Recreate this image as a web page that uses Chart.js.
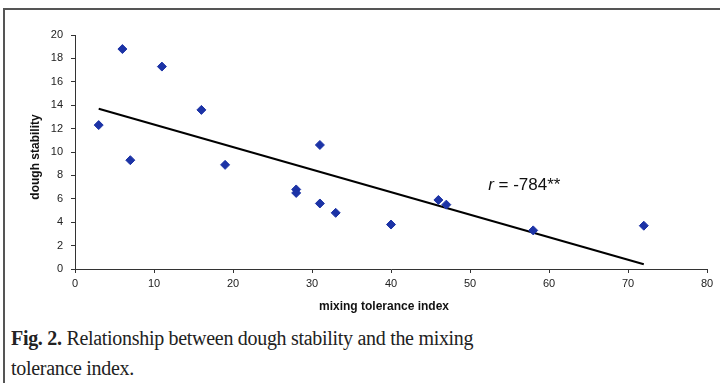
<!DOCTYPE html>
<html>
<head>
<meta charset="utf-8">
<script src="https://cdn.jsdelivr.net/npm/chart.js@4.4.0/dist/chart.umd.min.js"></script>
<style>
  html, body { margin: 0; padding: 0; background: #fff; }
  body { width: 720px; height: 383px; position: relative; overflow: hidden; }
  .frame { position: absolute; left: 3px; top: 8px; width: 717px; height: 375px;
           border-top: 2px solid #555; border-left: 2px solid #555; box-sizing: border-box; }
  #chart { position: absolute; left: 0; top: 0; }
  .caption { position: absolute; left: 11px; top: 323px; font-family: "Liberation Serif", "Times New Roman", serif;
             font-size: 20px; line-height: 30px; letter-spacing: -0.3px; color: #222; white-space: nowrap; }
</style>
</head>
<body>
<div class="frame"></div>
<canvas id="chart" width="720" height="320"></canvas>
<div class="caption"><b>Fig. 2.</b> Relationship between dough stability and the mixing<br>tolerance index.</div>
<script>
// one pair per sample
const mixingIndex    = [3, 6, 7, 11, 16, 19, 28, 28, 31, 31, 33, 40, 46, 47, 58, 72];
const doughStability = [12.3, 18.8, 9.3, 17.3, 13.6, 8.9, 6.8, 6.5, 10.6, 5.6, 4.8, 3.8, 5.9, 5.5, 3.3, 3.7];

// regression line end points
const trendX = [3, 72];
const trendY = [13.7, 0.4];

const xTicks = [0, 10, 20, 30, 40, 50, 60, 70, 80];
const yTicks = [0, 2, 4, 6, 8, 10, 12, 14, 16, 18, 20];

const xTitle = 'mixing tolerance index';
const yTitle = 'dough stability';
const rLabel = { x: 52.3, y: 6.75, r: 'r', rest: ' = -784**' };

const sans = '"Liberation Sans", Arial, sans-serif';

const textPlugin = {
  id: 'textPlugin',
  afterDraw(chart) {
    const { ctx, chartArea: a, scales: { x, y } } = chart;
    ctx.save();
    ctx.fillStyle = '#111';
    ctx.font = 'bold 12px ' + sans;
    ctx.textAlign = 'center';
    ctx.textBaseline = 'middle';
    ctx.fillText(xTitle, (a.left + a.right) / 2 - 7, a.bottom + 38);
    ctx.save();
    ctx.translate(36, (a.top + a.bottom) / 2 + 5);
    ctx.rotate(-Math.PI / 2);
    ctx.fillText(yTitle, 0, 0);
    ctx.restore();

    // correlation note, italic r
    const px = x.getPixelForValue(rLabel.x);
    const py = y.getPixelForValue(rLabel.y);
    ctx.textAlign = 'left';
    ctx.textBaseline = 'alphabetic';
    ctx.font = 'italic 17px ' + sans;
    ctx.fillText(rLabel.r, px, py);
    const w = ctx.measureText(rLabel.r).width;
    ctx.font = '17px ' + sans;
    ctx.fillText(rLabel.rest, px + w, py);
    ctx.restore();
  }
};

const points = mixingIndex.map((v, i) => ({ x: v, y: doughStability[i] }));
const trend = trendX.map((v, i) => ({ x: v, y: trendY[i] }));

const axisColor = '#333';

new Chart(document.getElementById('chart'), {
  type: 'scatter',
  data: {
    datasets: [
      {
        label: 'trend',
        data: trend,
        showLine: true,
        borderColor: '#000',
        borderWidth: 2,
        pointRadius: 0,
        order: 2
      },
      {
        label: 'samples',
        data: points,
        pointStyle: 'rectRot',
        pointRadius: 4.5,
        backgroundColor: '#1c33a6',
        borderColor: '#1c33a6',
        borderWidth: 1,
        order: 1
      }
    ]
  },
  options: {
    responsive: false,
    animation: false,
    layout: { padding: { left: 0, top: 35, right: 13, bottom: 0 } },
    plugins: { legend: { display: false }, tooltip: { enabled: false } },
    scales: {
      x: {
        type: 'linear',
        min: 0, max: 80,
        afterBuildTicks: s => { s.ticks = xTicks.map(v => ({ value: v })); },
        afterFit: s => { s.height = 51; },
        grid: { drawOnChartArea: false, drawTicks: true, tickLength: 4, color: axisColor },
        border: { display: true, color: axisColor, width: 1 },
        ticks: { color: '#222', padding: 4, maxRotation: 0, font: { size: 11, family: sans } }
      },
      y: {
        type: 'linear',
        min: 0, max: 20,
        afterBuildTicks: s => { s.ticks = yTicks.map(v => ({ value: v })); },
        afterFit: s => { s.width = 75; },
        grid: { drawOnChartArea: false, drawTicks: true, tickLength: 4, color: axisColor },
        border: { display: true, color: axisColor, width: 1 },
        ticks: { color: '#222', padding: 8, font: { size: 11, family: sans } }
      }
    }
  },
  plugins: [textPlugin]
});
</script>
</body>
</html>
